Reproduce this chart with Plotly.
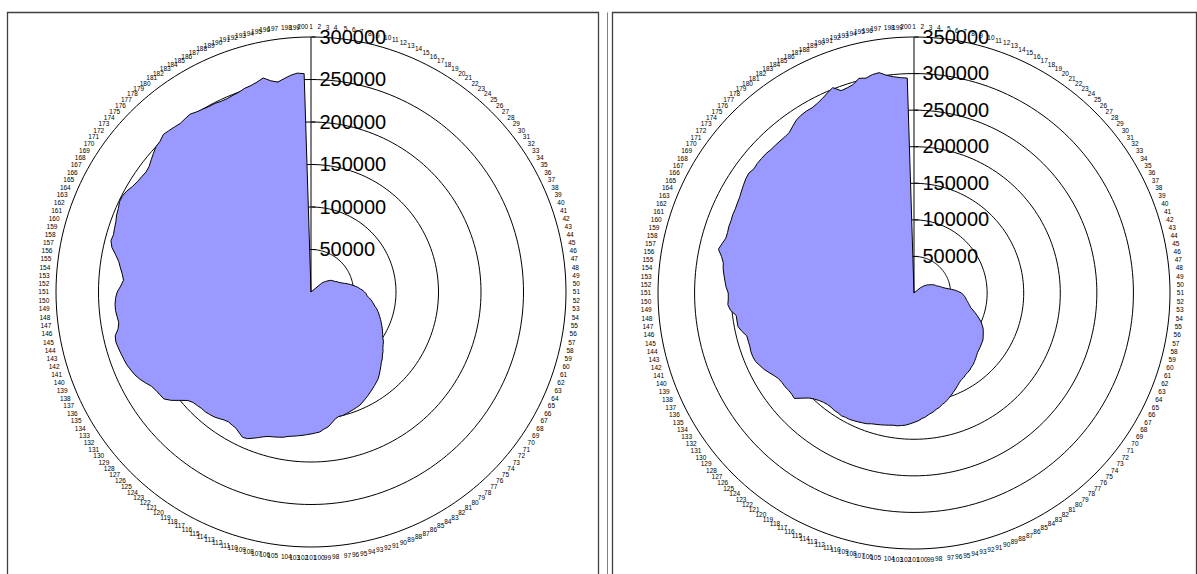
import plotly.graph_objects as go

# ---------------- data ----------------
CATEGORIES = [str(i) for i in range(1, 201)]

LEFT_VALUES = [
    0, 0, 0, 0, 0, 0, 0, 0, 0, 0, 0, 0, 0, 0, 0, 0, 0, 0, 0, 0, 0, 0, 0, 0, 0, 0, 0, 0,
    16000, 19000, 21000, 23000, 25000, 27000, 28000, 29000, 30000, 31000, 33000, 34000,
    36000, 38000, 41000, 44000, 47000, 50000, 53000, 56000, 58000, 61000,
    63000, 65000, 66000, 68000, 71000, 73000, 75000, 77000, 80000, 82000,
    84000, 86000, 88000, 90000, 92000, 94000, 96000, 98000, 100000, 103000,
    105000, 107000, 110000, 112000, 115000, 117000, 120000, 123000, 126000, 129000,
    131000, 133000, 135000, 137000, 139000, 141000, 143000, 145000, 146000, 147000,
    148000, 149000, 150000, 150000, 152000, 156000, 160000, 162000, 165000, 166000,
    167000, 168000, 169000, 170000, 171000, 172000, 174000, 175000, 176000, 177000,
    179000, 182000, 185000, 188000, 189000, 186000, 183000, 182000, 181000, 182000,
    184000, 186000, 187000, 188000, 188000, 189000, 190000, 193000, 200000, 208000,
    214000, 215000, 216000, 218000, 222000, 226000, 229000, 231000, 233000, 234000,
    235000, 236000, 237000, 236000, 231000, 229000, 230000, 231000, 231000, 230000,
    228000, 224000, 221000, 223000, 226000, 229000, 234000, 240000, 243000, 242000,
    243000, 244000, 246000, 247000, 249000, 249000, 247000, 244000, 242000, 241000,
    240000, 241000, 244000, 247000, 250000, 251000, 254000, 253000, 252000, 251000,
    252000, 253000, 251000, 250000, 249000, 249000, 248000, 248000, 249000, 250000,
    252000, 253000, 255000, 258000, 253000, 250000, 253000, 256000, 258000, 257000,
]

RIGHT_VALUES = [
    0, 0, 0, 0, 0, 0, 0, 0, 0, 0, 0, 0, 0, 0, 0, 0, 0, 0, 0, 0, 0, 0, 0, 0, 0, 0, 0, 0,
    11000, 13000, 16000, 18000, 20000, 22000, 23000, 25000, 27000, 28000, 30000, 31000,
    32000, 34000, 36000, 38000, 40000, 43000, 47000, 52000, 57000, 61000,
    65000, 67000, 69000, 71000, 72000, 74000, 76000, 78000, 80000, 84000,
    88000, 92000, 96000, 100000, 103000, 106000, 108000, 110000, 112000, 114000,
    115000, 116000, 117000, 118000, 119000, 121000, 123000, 125000, 127000, 128000,
    130000, 131000, 132000, 134000, 135000, 137000, 140000, 143000, 146000, 149000,
    152000, 155000, 157000, 160000, 162000, 165000, 167000, 170000, 172000, 175000,
    177000, 179000, 181000, 182000, 183000, 183000, 184000, 185000, 186000, 187000,
    188000, 190000, 191000, 192000, 193000, 194000, 194000, 195000, 194000, 194000,
    193000, 193000, 194000, 196000, 199000, 203000, 210000, 218000, 217000, 217000,
    218000, 218000, 219000, 222000, 226000, 230000, 233000, 236000, 237000, 237000,
    236000, 236000, 236000, 241000, 245000, 245000, 245000, 252000, 255000, 254000,
    254000, 257000, 259000, 261000, 263000, 264000, 268000, 274000, 271000, 268000,
    268000, 269000, 269000, 270000, 270000, 271000, 272000, 274000, 276000, 278000,
    279000, 277000, 278000, 278000, 278000, 277000, 277000, 277000, 277000, 278000,
    282000, 286000, 288000, 289000, 289000, 291000, 294000, 298000, 302000, 294000,
    295000, 297000, 303000, 301000, 304000, 305000, 300000, 297000, 295000, 294000,
]

LEFT_TICKS = [50000, 100000, 150000, 200000, 250000, 300000]
RIGHT_TICKS = [50000, 100000, 150000, 200000, 250000, 300000, 350000]
LEFT_MAX = 300000
RIGHT_MAX = 350000

# ---------------- layout helpers ----------------
W, H = 1197, 574
FILL = "#9999FF"


def domain(cx, cy, rad):
    return dict(x=[(cx - rad) / W, (cx + rad) / W],
                y=[1 - (cy + rad) / H, 1 - (cy - rad) / H])


def polar_layout(cx, cy, rad, rmax, ticks):
    return dict(
        domain=domain(cx, cy, rad),
        bgcolor="white",
        gridshape="linear",
        radialaxis=dict(
            range=[0, rmax],
            tickvals=ticks,
            ticktext=[str(t) for t in ticks],
            angle=90,
            side="clockwise",
            tickangle=90,
            showline=True, linecolor="black", linewidth=1,
            showgrid=True, gridcolor="black", gridwidth=1,
            ticks="outside", ticklen=4, tickcolor="black",
            tickfont=dict(family="Arial, Liberation Sans", size=20, color="black"),
        ),
        angularaxis=dict(
            type="category",
            categoryarray=CATEGORIES,
            rotation=90,
            direction="clockwise",
            showgrid=False,
            showline=True, linecolor="black", linewidth=1,
            ticks="outside", ticklen=5, tickcolor="rgba(0,0,0,0)",
            tickfont=dict(family="Arial, Liberation Sans", size=6.5, color="black"),
        ),
    )


fig = go.Figure()
for vals, sub in ((LEFT_VALUES, "polar"), (RIGHT_VALUES, "polar2")):
    fig.add_trace(go.Scatterpolar(
        r=vals + vals[:1],
        theta=CATEGORIES + CATEGORIES[:1],
        mode="lines",
        fill="toself",
        fillcolor=FILL,
        line=dict(color="black", width=1),
        subplot=sub,
        showlegend=False,
        hoverinfo="skip",
    ))

shapes = [
    dict(type="rect", xref="paper", yref="paper",
         x0=7.5 / W, x1=598.5 / W, y0=-0.05, y1=1 - 12.5 / H,
         line=dict(color="#404040", width=1.3)),
    dict(type="line", xref="paper", yref="paper",
         x0=607.5 / W, x1=607.5 / W, y0=-0.05, y1=1 - 12.5 / H,
         line=dict(color="#808080", width=1)),
    dict(type="rect", xref="paper", yref="paper",
         x0=612.5 / W, x1=1196.5 / W, y0=-0.05, y1=1 - 12.5 / H,
         line=dict(color="#404040", width=1.3)),
]

fig.update_layout(
    width=W, height=H, autosize=False,
    margin=dict(l=0, r=0, t=0, b=0),
    paper_bgcolor="white",
    plot_bgcolor="white",
    polar=polar_layout(311, 292, 255, LEFT_MAX, LEFT_TICKS),
    polar2=polar_layout(914, 293, 256, RIGHT_MAX, RIGHT_TICKS),
    shapes=shapes,
    showlegend=False,
)

fig.write_html(
    "out.html",
    config={"displayModeBar": False},
    post_script="document.body.style.margin='0';document.body.style.overflow='hidden';",
)
